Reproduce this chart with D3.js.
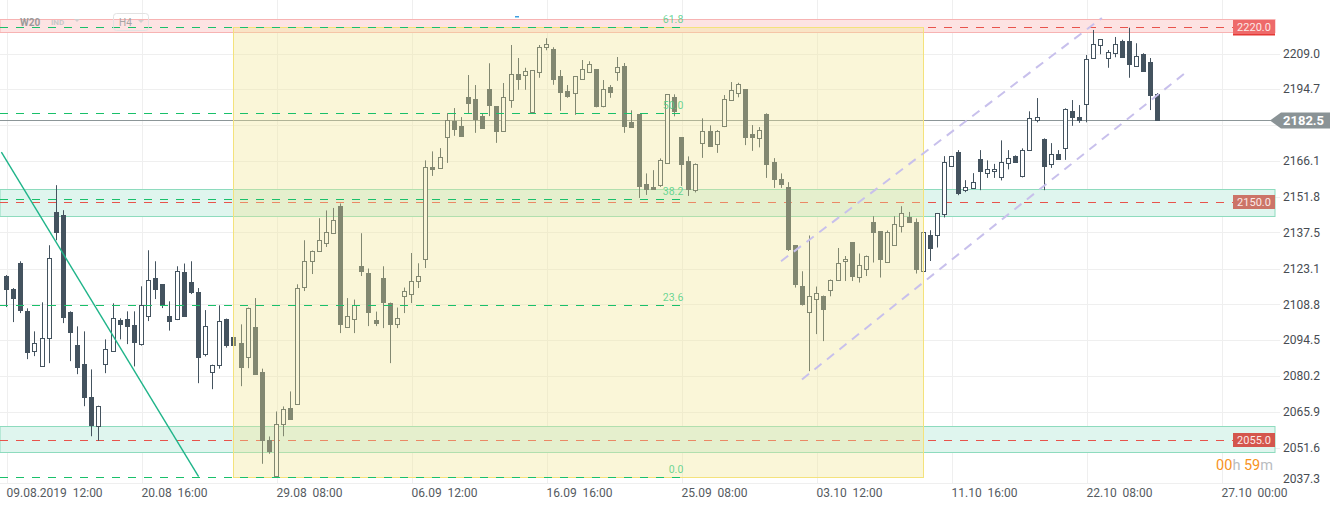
<!DOCTYPE html>
<html>
<head>
<meta charset="utf-8">
<script src="https://cdn.jsdelivr.net/npm/d3@7"></script>
<style>
  body { margin: 0; background: #fff; }
  svg { display: block; font-family: Roboto, "Open Sans", sans-serif; }
  .tick-y text { font-size: 12px; fill: #474c52; }
  .tick-x text { font-size: 12px; fill: #555b61; white-space: pre; }
  .grid { stroke: #efefef; stroke-width: 1; }
  .hline { shape-rendering: crispEdges; }
</style>
</head>
<body>
<div id="graphic"></div>
<script>
// W20 H4 candles, 09.08 - 22.10.2019

var opens = [
  2120.0, 2114.8, 2125.3, 2106.0, 2090.3, 2084.1, 2095.5, 2145.6, 2144.4, 2105.7,
  2092.4, 2085.1, 2071.6, 2060.0, 2085.1, 2090.3, 2102.4, 2103.1, 2100.4, 2092.9,
  2104.3, 2119.5, 2116.8, 2104.3, 2103.1, 2121.6, 2117.6, 2113.6, 2088.9, 2081.9,
  2084.7, 2102.8, 2095.6, 2093.5, 2087.7, 2099.6, 2081.6, 2054.4, 2040.1, 2061.1,
  2067.5, 2069.1, 2115.9, 2126.3, 2130.3, 2133.1, 2137.1, 2148.0, 2099.9, 2103.1,
  2124.3, 2121.5, 2102.4, 2119.5, 2109.5, 2101.1, 2112.3, 2113.1, 2118.3, 2127.1,
  2163.6, 2163.1, 2175.5, 2182.0, 2179.9, 2191.6, 2190.7, 2184.0, 2194.7, 2187.9,
  2178.1, 2190.3, 2200.8, 2200.3, 2185.5, 2201.5, 2211.5, 2210.8, 2200.0, 2194.0,
  2193.1, 2198.9, 2201.5, 2202.8, 2188.1, 2195.6, 2201.5, 2204.0, 2181.6, 2184.7,
  2156.7, 2155.6, 2156.3, 2165.1, 2191.7, 2175.5, 2165.9, 2154.3, 2173.1, 2177.9,
  2172.9, 2180.1, 2190.3, 2193.1, 2194.7, 2176.7, 2175.1, 2184.7, 2165.5, 2158.8,
  2155.5, 2132.3, 2116.3, 2105.7, 2110.9, 2112.3, 2114.7, 2118.7, 2126.3, 2133.6,
  2119.7, 2123.1, 2141.6, 2137.9, 2125.9, 2132.3, 2139.9, 2143.7, 2141.6, 2122.0,
  2136.3, 2136.4, 2144.8, 2164.0, 2169.6, 2154.4, 2155.2, 2166.7, 2161.1, 2162.0,
  2159.5, 2165.1, 2167.9, 2160.1, 2170.3, 2182.5, 2174.8, 2164.9, 2168.7, 2171.1,
  2186.0, 2183.5, 2188.9, 2207.1, 2212.3, 2207.1, 2209.1, 2214.0, 2214.0, 2204.1,
  2208.8, 2205.6, 2192.8
];
var highs = [
  2120.5, 2115.3, 2126.0, 2107.2, 2098.0, 2109.6, 2132.4, 2156.4, 2146.4, 2106.0,
  2100.0, 2098.0, 2082.8, 2068.3, 2094.8, 2109.2, 2103.2, 2106.0, 2106.0, 2116.0,
  2130.4, 2126.0, 2116.8, 2110.0, 2124.0, 2125.1, 2126.0, 2115.3, 2106.5, 2084.7,
  2108.4, 2103.1, 2095.6, 2100.8, 2107.5, 2111.3, 2083.1, 2056.0, 2066.0, 2068.0,
  2074.0, 2116.8, 2134.4, 2130.3, 2143.2, 2146.3, 2147.3, 2149.1, 2111.3, 2110.7,
  2137.2, 2123.1, 2105.9, 2124.0, 2109.5, 2107.5, 2115.5, 2129.3, 2125.2, 2166.3,
  2169.9, 2171.2, 2185.2, 2187.2, 2183.6, 2200.4, 2196.4, 2185.1, 2205.1, 2187.9,
  2197.2, 2212.4, 2207.2, 2203.3, 2202.3, 2212.4, 2215.1, 2211.5, 2202.4, 2196.4,
  2199.9, 2206.4, 2205.9, 2202.8, 2198.4, 2196.4, 2207.6, 2205.2, 2186.3, 2184.7,
  2161.1, 2162.4, 2167.1, 2192.7, 2192.7, 2175.5, 2167.9, 2165.1, 2183.1, 2180.3,
  2178.4, 2192.4, 2197.6, 2197.3, 2194.7, 2180.4, 2179.6, 2185.1, 2167.2, 2161.1,
  2157.6, 2132.3, 2122.0, 2136.3, 2115.9, 2112.3, 2118.7, 2131.3, 2128.1, 2133.6,
  2129.1, 2128.3, 2144.0, 2137.9, 2138.3, 2144.0, 2148.0, 2145.7, 2143.1, 2137.5,
  2138.4, 2145.3, 2168.0, 2168.1, 2170.4, 2158.4, 2161.2, 2170.4, 2166.3, 2164.9,
  2174.3, 2170.4, 2168.3, 2171.1, 2185.9, 2191.2, 2175.1, 2173.2, 2170.4, 2187.1,
  2190.4, 2188.4, 2208.4, 2218.4, 2214.7, 2210.4, 2215.6, 2214.5, 2219.3, 2213.1,
  2209.1, 2207.2, 2193.2
];
var lows = [
  2107.7, 2101.7, 2105.3, 2086.9, 2088.1, 2084.1, 2085.3, 2134.4, 2101.3, 2086.1,
  2080.9, 2068.1, 2056.1, 2054.3, 2081.3, 2090.3, 2094.8, 2092.9, 2084.0, 2092.3,
  2102.1, 2110.9, 2107.3, 2098.3, 2102.5, 2104.1, 2112.9, 2077.3, 2088.0, 2074.9,
  2083.1, 2091.5, 2092.5, 2076.1, 2083.3, 2081.1, 2045.1, 2049.1, 2040.1, 2056.1,
  2062.9, 2069.1, 2114.1, 2120.9, 2130.3, 2131.7, 2137.1, 2097.3, 2099.5, 2097.3,
  2120.1, 2100.1, 2100.1, 2099.3, 2085.3, 2099.3, 2105.3, 2109.3, 2115.3, 2123.3,
  2160.1, 2163.1, 2165.3, 2176.1, 2176.1, 2185.2, 2177.3, 2179.3, 2184.0, 2173.3,
  2178.1, 2187.3, 2194.5, 2194.5, 2185.5, 2199.3, 2210.3, 2196.5, 2186.1, 2191.3,
  2184.5, 2198.9, 2201.5, 2187.5, 2187.5, 2191.3, 2198.1, 2177.3, 2179.6, 2151.3,
  2152.5, 2154.9, 2155.7, 2165.1, 2183.9, 2156.1, 2152.1, 2153.5, 2167.3, 2172.1,
  2169.3, 2179.6, 2190.3, 2191.5, 2172.4, 2170.1, 2171.5, 2159.3, 2155.3, 2155.3,
  2130.1, 2115.5, 2108.3, 2082.1, 2096.9, 2094.1, 2112.0, 2118.3, 2118.1, 2118.1,
  2117.5, 2120.1, 2125.5, 2119.5, 2125.9, 2132.3, 2137.5, 2141.7, 2121.1, 2120.1,
  2126.1, 2131.5, 2143.5, 2164.0, 2152.4, 2153.6, 2155.2, 2154.4, 2159.3, 2159.3,
  2158.3, 2162.7, 2165.7, 2159.5, 2170.3, 2181.5, 2154.4, 2163.3, 2166.9, 2166.5,
  2180.1, 2181.3, 2181.5, 2207.1, 2208.7, 2203.3, 2207.5, 2207.7, 2199.3, 2204.1,
  2202.1, 2186.4, 2182.3
];
var closes = [
  2114.9, 2111.3, 2106.7, 2089.7, 2093.5, 2095.5, 2127.2, 2137.6, 2103.7, 2097.7,
  2083.7, 2071.7, 2060.4, 2068.3, 2091.1, 2103.5, 2100.9, 2100.1, 2093.7, 2108.7,
  2118.7, 2114.9, 2108.9, 2102.1, 2122.3, 2104.1, 2113.6, 2087.7, 2100.3, 2084.7,
  2102.3, 2092.4, 2092.5, 2083.7, 2107.5, 2081.1, 2054.4, 2050.1, 2061.1, 2067.1,
  2062.9, 2115.5, 2126.3, 2130.3, 2134.3, 2137.5, 2142.3, 2100.9, 2104.3, 2108.7,
  2122.1, 2105.7, 2101.3, 2109.7, 2100.9, 2103.5, 2114.3, 2118.3, 2120.3, 2163.5,
  2162.7, 2167.5, 2182.5, 2178.9, 2176.1, 2189.3, 2182.9, 2179.3, 2188.3, 2178.1,
  2191.5, 2200.7, 2198.9, 2201.9, 2202.3, 2211.5, 2212.7, 2198.9, 2193.7, 2192.1,
  2199.9, 2202.7, 2204.7, 2188.0, 2194.7, 2193.7, 2203.5, 2180.1, 2179.6, 2156.1,
  2154.9, 2154.9, 2166.3, 2192.7, 2186.1, 2164.9, 2154.9, 2164.7, 2178.1, 2172.1,
  2177.9, 2190.7, 2194.5, 2196.7, 2175.7, 2175.7, 2178.4, 2164.9, 2158.9, 2156.9,
  2130.8, 2116.9, 2108.8, 2112.3, 2113.3, 2106.9, 2118.7, 2125.5, 2127.1, 2120.1,
  2124.7, 2128.3, 2137.7, 2126.8, 2137.6, 2140.8, 2145.3, 2141.7, 2122.9, 2137.5,
  2131.1, 2145.3, 2165.5, 2168.1, 2153.1, 2155.5, 2157.5, 2161.9, 2162.7, 2162.7,
  2165.5, 2167.3, 2165.7, 2170.3, 2183.3, 2183.5, 2164.1, 2168.7, 2166.9, 2186.7,
  2183.7, 2182.4, 2206.7, 2212.7, 2214.7, 2209.5, 2212.7, 2207.7, 2204.9, 2207.9,
  2202.1, 2192.3, 2182.3
];

var timeLabels = ['09.08.2019  12:00', '20.08  16:00', '29.08  08:00', '06.09  12:00', '16.09  16:00',
  '25.09  08:00', '03.10  12:00', '11.10  16:00', '22.10  08:00', '27.10  00:00'];
var timeLabelIdx = [0, 19, 38, 57, 76, 95, 114, 133, 152, 171];
var priceTicks = [2037.3, 2051.6, 2065.9, 2080.2, 2094.5, 2108.8, 2123.1, 2137.5, 2151.8, 2166.1, 2180.4, 2194.7, 2209.0];

// horizontal levels & zones
var levelPrices = [2220.0, 2150.0, 2055.0];
var levelColors = ['#ee6a6a', '#cc7468', '#d4564d'];
var zoneTop = [2222.8, 2154.7, 2060.1];
var zoneBottom = [2217.6, 2144.1, 2049.9];
var lastPrice = 2182.5;

// fibonacci retracement
var fibRatios = [0, 23.6, 38.2, 50.0, 61.8];
var fibLow = 2039.9, fibHigh = 2330.8;
var fibStartIdx = 32, fibEndIdx = 129, fibLabelIdx = 95.3;

// drawn lines (index, price)
var trendIdx = [-0.65, 27.1], trendPrice = [2169.6, 2040.0];
var chanUpIdx = [109.05, 154.2], chanUpPrice = [2126.0, 2223.2];
var chanLoIdx = [112.0, 165.9], chanLoPrice = [2078.8, 2201.2];

renderGraphic({ width: 1343, height: 509 });

function renderGraphic(config) {
	var width = config.width, height = config.height;
	var plotRight = 1275, axisBottom = 483.3;
	var candleColor = '#44535f';

	var svg = d3.select('#graphic').append('svg')
		.attr('width', width)
		.attr('height', height);

	svg.append('rect').attr('width', width).attr('height', height).attr('fill', '#fff');

	var x = d3.scaleLinear().domain([0, 178]).range([6, 6 + 178 * 7.107]);
	var y = d3.scaleLinear().domain([2037.3, 2209.0]).range([axisBottom, 53.5]);
	var px = function(i) { return Math.round(x(i)) + 0.5; };
	var py = function(v) { return Math.round(y(v)) + 0.5; };

	// 1. grid
	svg.append('g').selectAll('line').data(priceTicks).enter().append('line')
		.attr('class', 'grid')
		.attr('x1', 0).attr('x2', 1280)
		.attr('y1', function(d) { return py(d); })
		.attr('y2', function(d) { return py(d); });

	svg.append('g').selectAll('line').data(timeLabelIdx).enter().append('line')
		.attr('class', 'grid')
		.attr('x1', function(d) { return px(d) + 1; })
		.attr('x2', function(d) { return px(d) + 1; })
		.attr('y1', 0).attr('y2', axisBottom);

	// 2. zones
	var zones = svg.append('g').selectAll('g').data(levelPrices).enter().append('g');
	zones.append('rect')
		.attr('x', 0).attr('width', plotRight)
		.attr('y', function(d, i) { return py(zoneTop[i]); })
		.attr('height', function(d, i) { return py(zoneBottom[i]) - py(zoneTop[i]); })
		.attr('fill', function(d, i) { return i == 0 ? '#fde3e3' : '#dff5ee'; })
		.attr('stroke', function(d, i) { return i == 0 ? '#f7b3b3' : '#8edbbe'; })
		.attr('stroke-width', 1);

	// red level lines
	svg.append('g').selectAll('line').data(levelPrices).enter().append('line')
		.attr('class', 'hline')
		.attr('x1', 0).attr('x2', 1233)
		.attr('y1', function(d) { return py(d) + 1; })
		.attr('y2', function(d) { return py(d) + 1; })
		.attr('stroke', '#e8534c')
		.attr('stroke-dasharray', '8,8');

	// last price line
	svg.append('line')
		.attr('class', 'hline')
		.attr('x1', 0).attr('x2', plotRight)
		.attr('y1', py(lastPrice)).attr('y2', py(lastPrice))
		.attr('stroke', '#8c9698');

	// 3. candles
	var candles = svg.append('g').attr('class', 'candles')
		.selectAll('g').data(opens).enter().append('g');

	candles.append('line')
		.attr('x1', function(d, i) { return px(i); })
		.attr('x2', function(d, i) { return px(i); })
		.attr('y1', function(d, i) { return y(highs[i]); })
		.attr('y2', function(d, i) { return y(lows[i]); })
		.attr('stroke', candleColor);

	candles.append('rect')
		.attr('x', function(d, i) { return px(i) - 2; })
		.attr('width', 4)
		.attr('y', function(d, i) { return Math.round(y(Math.max(d, closes[i]))) + 0.5; })
		.attr('height', function(d, i) {
			return Math.max(1, Math.round(y(Math.min(d, closes[i]))) - Math.round(y(Math.max(d, closes[i]))));
		})
		.attr('fill', function(d, i) { return closes[i] >= d ? '#fff' : candleColor; })
		.attr('stroke', candleColor);

	// 4. fib box (translucent yellow over candles)
	var fibY = function(r) { return py(fibLow + (fibHigh - fibLow) * r / 100); };
	svg.append('rect')
		.attr('x', px(fibStartIdx))
		.attr('y', fibY(61.8))
		.attr('width', px(fibEndIdx) - px(fibStartIdx))
		.attr('height', fibY(0) - fibY(61.8))
		.attr('fill', 'rgb(242,230,147)')
		.attr('fill-opacity', 0.36)
		.attr('stroke', '#f4e27c')
		.attr('stroke-width', 1);

	var fib = svg.append('g').selectAll('g').data(fibRatios).enter().append('g');
	fib.append('line')
		.attr('class', 'hline')
		.attr('x1', 0).attr('x2', x(fibLabelIdx))
		.attr('y1', function(d) { return fibY(d); })
		.attr('y2', function(d) { return fibY(d); })
		.attr('stroke', '#19c06a')
		.attr('stroke-dasharray', '8,8');
	fib.append('text')
		.attr('x', x(fibLabelIdx))
		.attr('y', function(d) { return fibY(d) - 5; })
		.attr('text-anchor', 'end')
		.attr('font-size', 10.5)
		.attr('fill', '#4fcf86')
		.attr('fill-opacity', 0.85)
		.text(function(d) { return d.toFixed(1); });

	// 5. drawn lines
	svg.append('line')
		.attr('x1', x(trendIdx[0])).attr('y1', y(trendPrice[0]))
		.attr('x2', x(trendIdx[1])).attr('y2', y(trendPrice[1]))
		.attr('stroke', '#1fb489').attr('stroke-width', 1.4);

	[[chanUpIdx, chanUpPrice], [chanLoIdx, chanLoPrice]].forEach(function(c) {
		svg.append('line')
			.attr('x1', x(c[0][0])).attr('y1', y(c[1][0]))
			.attr('x2', x(c[0][1])).attr('y2', y(c[1][1]))
			.attr('stroke', '#c8c0ec').attr('stroke-width', 2)
			.attr('stroke-dasharray', '9,7');
	});

	// 6. level labels
	var lbl = svg.append('g').selectAll('g').data(levelPrices).enter().append('g')
		.attr('transform', function(d) { return 'translate(1233,' + (Math.round(y(d)) + 1) + ')'; });
	lbl.append('rect')
		.attr('x', 0).attr('y', -7).attr('width', 42).attr('height', 14)
		.attr('fill', function(d, i) { return levelColors[i]; });
	lbl.append('text')
		.attr('x', 21).attr('y', 4)
		.attr('text-anchor', 'middle')
		.attr('font-size', 11)
		.attr('fill', '#fbe9e7')
		.text(function(d) { return d.toFixed(1); });
	svg.append('rect')
		.attr('x', 1233).attr('y', Math.round(y(levelPrices[0])) + 8)
		.attr('width', 42).attr('height', 1.5)
		.attr('fill', '#e53935');

	// 7. y axis (the tick hidden by the last-price marker gets no text)
	var yticks = svg.append('g').attr('class', 'tick-y')
		.selectAll('text')
		.data(priceTicks.filter(function(d) { return Math.abs(y(d) - y(lastPrice)) > 10; }))
		.enter().append('text')
		.attr('x', 1283)
		.attr('y', function(d) { return Math.min(y(d), 478.5); })
		.attr('dy', '0.35em')
		.text(function(d) { return d.toFixed(1); });

	// last price marker
	var lp = svg.append('g').attr('transform', 'translate(0,' + (Math.round(y(lastPrice)) + 0.5) + ')');
	lp.append('path')
		.attr('d', 'M1270,0 L1281,-8 L1330,-8 L1330,8 L1281,8 Z')
		.attr('fill', '#8a9396');
	lp.append('text')
		.attr('x', 1283).attr('dy', '0.36em')
		.attr('font-size', 13).attr('font-weight', 'bold')
		.attr('fill', '#fff')
		.text(lastPrice.toFixed(1));

	// 8. x axis labels
	svg.append('g').attr('class', 'tick-x')
		.selectAll('text').data(timeLabelIdx).enter().append('text')
		.attr('x', function(d) { return px(d); })
		.attr('y', 497)
		.text(function(d, i) { return timeLabels[i]; });

	// countdown
	var cd = svg.append('text')
		.attr('x', 1273).attr('y', 470)
		.attr('text-anchor', 'end')
		.attr('font-size', 14.5);
	cd.append('tspan').attr('fill', '#f7931e').text('00');
	cd.append('tspan').attr('fill', '#b9bcbf').text('h ');
	cd.append('tspan').attr('fill', '#f7931e').text('59');
	cd.append('tspan').attr('fill', '#b9bcbf').text('m');

	// 9. toolbar
	var tb = svg.append('g').attr('font-weight', 'bold');
	tb.append('text').attr('x', 20).attr('y', 26).attr('font-size', 10).attr('fill', '#9a9a9a').text('W20');
	tb.append('text').attr('x', 51).attr('y', 25).attr('font-size', 8).attr('fill', '#c8c8c8').text('IND');
	tb.append('path').attr('d', 'M74,19 L80,19 L77,22 Z').attr('fill', '#cfcfcf');
	tb.append('rect').attr('x', 113.5).attr('y', 13.5).attr('width', 35).attr('height', 17).attr('rx', 3)
		.attr('fill', 'none').attr('stroke', '#e2e2e2');
	tb.append('text').attr('x', 119).attr('y', 26).attr('font-size', 10).attr('font-weight', 'normal')
		.attr('fill', '#a5a5a5').text('H4');
	tb.append('path').attr('d', 'M138,20 L144,20 L141,23 Z').attr('fill', '#cfcfcf');
	svg.append('rect').attr('x', 515).attr('y', 16).attr('width', 4).attr('height', 1.5).attr('fill', '#3fa0e0');
}
</script>
</body>
</html>
